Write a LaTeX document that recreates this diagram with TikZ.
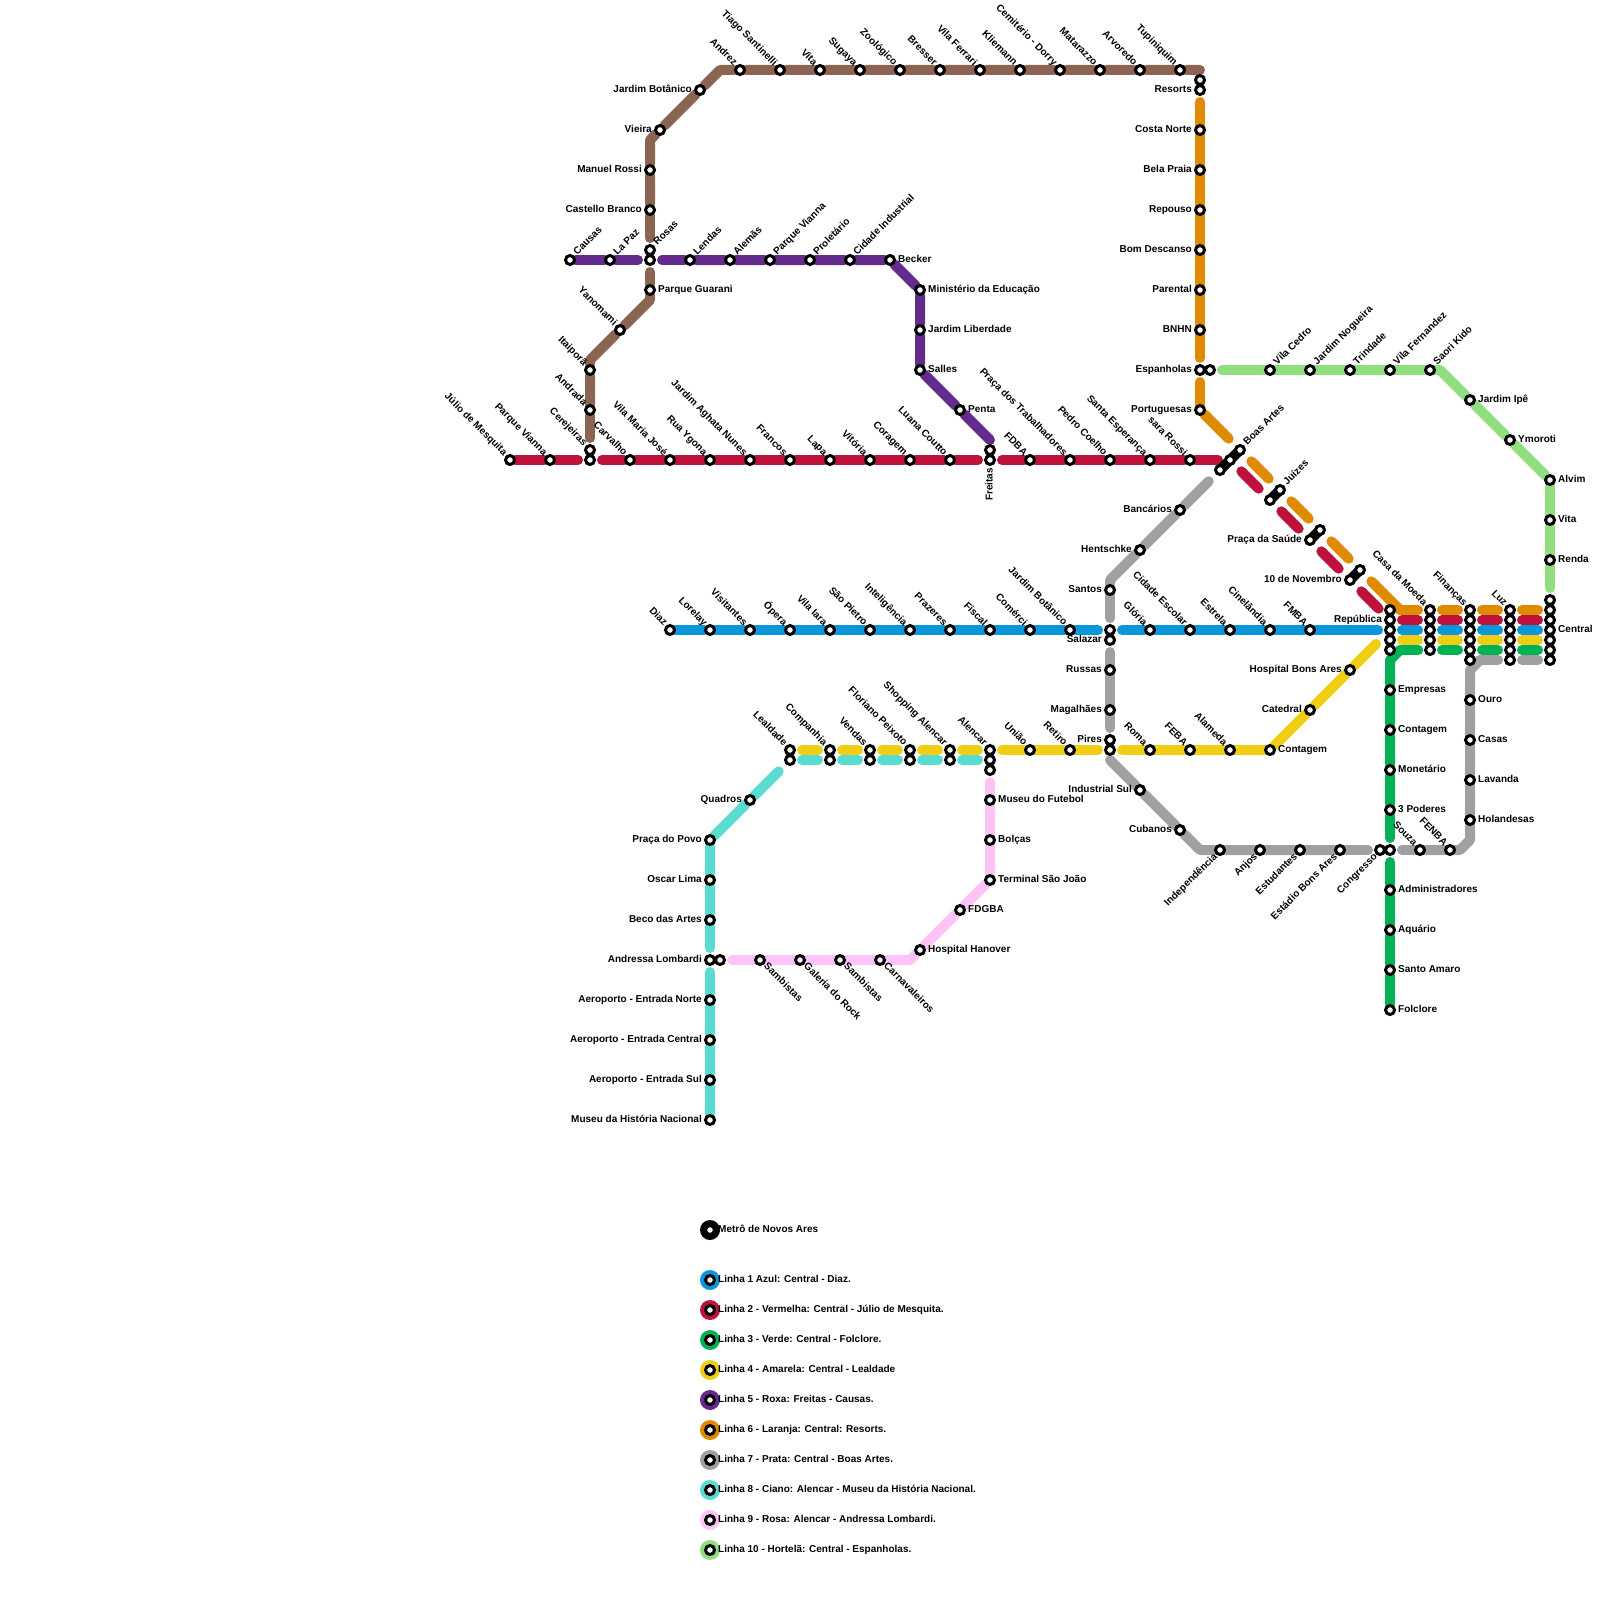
\documentclass[tikz,border=0pt]{standalone}
\usepackage{fontspec}
\setmainfont{Liberation Sans}
\definecolor{cBlue}{RGB}{9,150,218}
\definecolor{cRed}{RGB}{190,18,60}
\definecolor{cGreen}{RGB}{0,178,84}
\definecolor{cYellow}{RGB}{240,206,20}
\definecolor{cPurple}{RGB}{100,42,140}
\definecolor{cOrange}{RGB}{224,138,0}
\definecolor{cGray}{RGB}{160,160,160}
\definecolor{cCyan}{RGB}{88,220,210}
\definecolor{cPink}{RGB}{252,196,246}
\definecolor{cMint}{RGB}{144,222,128}
\definecolor{cBrown}{RGB}{140,100,82}
\pgfdeclarelayer{lines}
\pgfsetlayers{lines,main}
\begin{document}
\begin{tikzpicture}[
    x=1pt,y=-1pt,
    st/.style={circle,draw=black,fill=white,line width=3pt,minimum size=9pt,inner sep=0pt,label distance=0pt},
    lab/.style={font=\fontsize{10}{12}\selectfont\bfseries,inner sep=0pt,text height=7.2pt,text depth=2.2pt},
    le/.style={label={[lab,anchor=west,xshift=2pt]0:#1}},
    lw/.style={label={[lab,anchor=east,xshift=-2pt]180:#1}},
    lne/.style={label={[lab,rotate=45,anchor=west,xshift=2.2pt,yshift=.4pt]45:#1}},
    lnw/.style={label={[lab,rotate=-45,anchor=east,xshift=-1.2pt,yshift=.5pt]135:#1}},
    lse/.style={label={[lab,rotate=-45,anchor=west,xshift=1pt]-45:#1}},
    lsw/.style={label={[lab,rotate=45,anchor=east,xshift=-.5pt,yshift=-1pt]225:#1}},
    lup/.style={label={[lab,rotate=90,anchor=east,xshift=-2pt]-90:#1}},
    linha/.style={line width=10pt,line cap=round,line join=round},
    gape/.style={shorten >=6pt},
    gap/.style={shorten <=6pt,gape},
    gapde/.style={shorten >=10pt},
    gapd/.style={shorten <=10pt,gapde},
    bar/.style={line width=10pt,black,shorten <=-4pt,shorten >=-4pt},
    leg/.style={circle,minimum size=20pt,inner sep=0pt}
  ]
    \useasboundingbox (0,0) rectangle (1600,1600);
    % brown
    \foreach \n/\x/\t in {andrez/740/Andrez,tiago/780/Tiago Santinelli,vitab/820/Vita,sugaya/860/Sugaya,zoo/900/Zoológico,bresser/940/Bresser,ferrari/980/Vila Ferrari,kliemann/1020/Kliemann,dorry/1060/Cemitério - Dorry,matarazzo/1100/Matarazzo,arvoredo/1140/Arvoredo,tupi/1180/Tupiniquim}
      {\node[st,lnw=\t] (\n) at (\x,70) {};}
    \foreach \n/\x/\y/\t in {jbot/700/90/Jardim Botânico,vieira/660/130/Vieira,rossi/650/170/Manuel Rossi,castello/650/210/Castello Branco}
      {\node[st,lw=\t] (\n) at (\x,\y) {};}
    \foreach \n/\x/\y/\t in {yanomami/620/330/Yanomami,itaipora/590/370/Itaiporã,andrada/590/410/Andrada,cerej/590/450/Cerejeiras}
      {\node[st,lnw=\t] (\n) at (\x,\y) {};}
    \node[st,lne=Rosas] (rosas) at (650,250) {};
    \node[st] (rosas0) at (650,260) {};
    \node[st,le=Parque Guarani] (pguarani) at (650,290) {};
    % purple
    \foreach \n/\x/\t in {causas/570/Causas,lapaz/610/La Paz,lendas/690/Lendas,alemas/730/Alemãs,pvianna/770/Parque Vianna,proletario/810/Proletário,cindustrial/850/Cidade Industrial}
      {\node[st,lne=\t] (\n) at (\x,260) {};}
    \foreach \n/\x/\y/\t in {becker/890/260/Becker,minist/920/290/Ministério da Educação,jlib/920/330/Jardim Liberdade,salles/920/370/Salles,penta/960/410/Penta}
      {\node[st,le=\t] (\n) at (\x,\y) {};}
    % red
    \foreach \n/\x/\t in {julio/510/Júlio de Mesquita,pvianna2/550/Parque Vianna,carvalho/630/Carvalho,vmaria/670/Vila Maria José,ygona/710/Rua Ygona,aghata/750/Jardim Aghata Nunes,francos/790/Francos,lapa/830/Lapa,vitoria/870/Vitória,coragem/910/Coragem,luana/950/Luana Coutto,fdba/1030/FDBA,ptrab/1070/Praça dos Trabalhadores,pcoelho/1110/Pedro Coelho,sesperanca/1150/Santa Esperança,srossi/1190/sara Rossi}
      {\node[st,lnw=\t] (\n) at (\x,460) {};}
    \node[st] (carv0) at (590,460) {};
    \node[st] (fre0) at (990,450) {};
    \node[st,lup=Freitas] (fre) at (990,460) {};
    % blue
    \foreach \n/\x/\t in {diaz/670/Diaz,lorelay/710/Lorelay,visitantes/750/Visitantes,opera/790/Ópera,viara/830/Vila Iara,spietro/870/São Pietro,intel/910/Inteligência,prazeres/950/Prazeres,fiscal/990/Fiscal,comerci/1030/Comérci,jbot2/1070/Jardim Botânico,gloria/1150/Glória,cescolar/1190/Cidade Escolar,estrela/1230/Estrela,cinelandia/1270/Cinelândia,fmba/1310/FMBA}
      {\node[st,lnw=\t] (\n) at (\x,630) {};}
    % gray
    \foreach \n/\x/\y/\t in {bancarios/1180/510/Bancários,hentschke/1140/550/Hentschke,santos/1110/590/Santos,russas/1110/670/Russas,magalhaes/1110/710/Magalhães,pires/1110/740/Pires,indsul/1140/790/Industrial Sul,cubanos/1180/830/Cubanos}
      {\node[st,lw=\t] (\n) at (\x,\y) {};}
    \node[st] (sal0) at (1110,630) {};
    \node[st,lw=Salazar] (salazar) at (1110,640) {};
    \node[st] (pires0) at (1110,750) {};
    \foreach \n/\x/\t in {indep/1220/Independência,anjos/1260/Anjos,estud/1300/Estudantes,ebons/1340/Estádio Bons Ares,congresso/1380/Congresso}
      {\node[st,lsw=\t] (\n) at (\x,850) {};}
    \node[st] (tres0) at (1390,850) {};
    \node[st,lnw=Souza] (souza) at (1420,850) {};
    \node[st,lnw=FENBA] (fenba) at (1450,850) {};
    \foreach \n/\y/\t in {holandesas/820/Holandesas,lavanda/780/Lavanda,casas/740/Casas,ouro/700/Ouro}
      {\node[st,le=\t] (\n) at (1470,\y) {};}
    % yellow and cyan
    \foreach \n/\x/\t in {lealdade/790/Lealdade,companhia/830/Companhia,vendas/870/Vendas,floriano/910/Floriano Peixoto,shopping/950/Shopping Alencar,alencar/990/Alencar,uniao/1030/União,retiro/1070/Retiro,roma/1150/Roma,feba/1190/FEBA,alameda/1230/Alameda}
      {\node[st,lnw=\t] (\n) at (\x,750) {};}
    \foreach \n/\x in {cl/790,cc/830,cv/870,cf/910,cs/950,ca/990}
      {\node[st] (\n) at (\x,760) {};}
    \node[st] (ca2) at (990,770) {};
    \node[st,le=Contagem] (contagem) at (1270,750) {};
    \node[st,lw=Catedral] (catedral) at (1310,710) {};
    \node[st,lw=Hospital Bons Ares] (hbons) at (1350,670) {};
    \foreach \n/\x/\y/\t in {quadros/750/800/Quadros,ppovo/710/840/Praça do Povo,oscar/710/880/Oscar Lima,beco/710/920/Beco das Artes,andressa/710/960/Andressa Lombardi,aeron/710/1000/Aeroporto - Entrada Norte,aeroc/710/1040/Aeroporto - Entrada Central,aeros/710/1080/Aeroporto - Entrada Sul,museuh/710/1120/Museu da História Nacional}
      {\node[st,lw=\t] (\n) at (\x,\y) {};}
    % pink
    \foreach \n/\x/\y/\t in {mfutebol/990/800/Museu do Futebol,bolcas/990/840/Bolças,tsaojoao/990/880/Terminal São João,fdgba/960/910/FDGBA,hanover/920/950/Hospital Hanover}
      {\node[st,le=\t] (\n) at (\x,\y) {};}
    \foreach \n/\x/\t in {carnav/880/Carnavaleiros,samb2/840/Sambistas,galeria/800/Galeria do Rock,samb1/760/Sambistas}
      {\node[st,lse=\t] (\n) at (\x,960) {};}
    \node[st] (and0) at (720,960) {};
    % orange
    \node[st] (res0) at (1200,80) {};
    \foreach \n/\y/\t in {resorts/90/Resorts,cnorte/130/Costa Norte,bpraia/170/Bela Praia,repouso/210/Repouso,bdescanso/250/Bom Descanso,parental/290/Parental,bnhn/330/BNHN,espanholas/370/Espanholas,portuguesas/410/Portuguesas}
      {\node[st,lw=\t] (\n) at (1200,\y) {};}
    % mint
    \node[st] (esp0) at (1210,370) {};
    \foreach \n/\x/\t in {vcedro/1270/Vila Cedro,jnog/1310/Jardim Nogueira,trindade/1350/Trindade,vfern/1390/Vila Fernandez,saori/1430/Saori Kido}
      {\node[st,lne=\t] (\n) at (\x,370) {};}
    \foreach \n/\x/\y/\t in {jipe/1470/400/Jardim Ipê,ymoroti/1510/440/Ymoroti,alvim/1550/480/Alvim,vita/1550/520/Vita,renda/1550/560/Renda}
      {\node[st,le=\t] (\n) at (\x,\y) {};}
    % green
    \foreach \n/\y/\t in {empresas/690/Empresas,contagem2/730/Contagem,monetario/770/Monetário,poderes/810/3 Poderes,admin/890/Administradores,aquario/930/Aquário,samaro/970/Santo Amaro,folclore/1010/Folclore}
      {\node[st,le=\t] (\n) at (1390,\y) {};}
    % diagonal stops
    \node[st] (ba1) at (1220,470) {};
    \node[st] (ba2) at (1230,460) {};
    \node[st,lne=Boas Artes] (ba3) at (1240,450) {};
    \node[st] (ju1) at (1270,500) {};
    \node[st,lne=Juízes] (ju2) at (1280,490) {};
    \node[st,lw=Praça da Saúde] (sa1) at (1310,540) {};
    \node[st] (sa2) at (1320,530) {};
    \node[st,lw=10 de Novembro] (no1) at (1350,580) {};
    \node[st] (no2) at (1360,570) {};
    % columns
    \foreach \i/\y in {1/610,3/630,4/640,5/650}
      {\node[st] (rep\i) at (1390,\y) {};}
    \node[st,lw=República] (rep2) at (1390,620) {};
    \foreach \i/\y in {2/620,3/630,4/640,5/650}{
      \node[st] (cas\i) at (1430,\y) {};
      \node[st] (fin\i) at (1470,\y) {};
      \node[st] (luz\i) at (1510,\y) {};
    }
    \node[st,lnw=Casa da Moeda] (cas1) at (1430,610) {};
    \node[st,lnw=Finanças] (fin1) at (1470,610) {};
    \node[st,lnw=Luz] (luz1) at (1510,610) {};
    \foreach \i/\y in {0/600,1/610,2/620,4/640,5/650,6/660}
      {\node[st] (cen\i) at (1550,\y) {};}
    \node[st,le=Central] (cen3) at (1550,630) {};
    \node[st] (fin6) at (1470,660) {};
    \node[st] (luz6) at (1510,660) {};
    \coordinate (brA) at (590,360);
    \coordinate (brB) at (650,300);
    \coordinate (brC) at (650,140);
    \coordinate (brD) at (720,70);
    \coordinate (brE) at (1200,70);
    \coordinate (puEnd) at (990,440);
    \coordinate (orBend) at (1400,610);
    \coordinate (grA) at (1110,580);
    \coordinate (grB) at (1110,760);
    \coordinate (grC) at (1200,850);
    \coordinate (grD) at (1460,850);
    \coordinate (grE) at (1470,840);
    \coordinate (grF) at (1470,670);
    \coordinate (grG) at (1480,660);
    \coordinate (yeEnd) at (1376,644);
    \coordinate (piBend) at (910,960);
    \coordinate (miBend) at (1440,370);
    \coordinate (grnA) at (1400,650);
    \coordinate (grnB) at (1390,660);
    \begin{pgfonlayer}{lines}
      \draw[linha,cBrown] (pguarani)--(brB)--(yanomami)--(brA)--(itaipora)--(andrada);
      \draw[linha,cBrown] (castello)--(rossi)--(brC)--(vieira)--(jbot)--(brD)--(andrez)--(tiago)--(vitab)--(sugaya)--(zoo)--(bresser)--(ferrari)--(kliemann)--(dorry)--(matarazzo)--(arvoredo)--(tupi)--(brE);
      \draw[linha,cPurple] (causas)--(lapaz);
      \draw[linha,cPurple] (lendas)--(alemas)--(pvianna)--(proletario)--(cindustrial)--(becker)--(minist)--(jlib)--(salles)--(penta)--(puEnd);
      \draw[linha,cRed] (julio)--(pvianna2);
      \draw[linha,cRed] (carvalho)--(vmaria)--(ygona)--(aghata)--(francos)--(lapa)--(vitoria)--(coragem)--(luana);
      \draw[linha,cRed] (fdba)--(ptrab)--(pcoelho)--(sesperanca)--(srossi);
      \draw[linha,cBlue] (diaz)--(lorelay)--(visitantes)--(opera)--(viara)--(spietro)--(intel)--(prazeres)--(fiscal)--(comerci)--(jbot2);
      \draw[linha,cBlue] (gloria)--(cescolar)--(estrela)--(cinelandia)--(fmba);
      \draw[linha,cGray] (bancarios)--(hentschke)--(grA)--(santos);
      \draw[linha,cGray] (russas)--(magalhaes);
      \draw[linha,cGray] (grB)--(indsul)--(cubanos)--(grC)--(indep)--(anjos)--(estud)--(ebons);
      \draw[linha,cGray] (souza)--(fenba)--(grD)--(grE)--(holandesas)--(lavanda)--(casas)--(ouro)--(grF)--(grG);
      \draw[linha,cYellow] (yeEnd)--(hbons)--(catedral)--(contagem)--(alameda)--(feba)--(roma);
      \draw[linha,cYellow] (retiro)--(uniao);
      \draw[linha,cCyan] (quadros)--(ppovo)--(oscar)--(beco);
      \draw[linha,cCyan] (aeron)--(aeroc)--(aeros)--(museuh);
      \draw[linha,cPink] (mfutebol)--(bolcas)--(tsaojoao)--(fdgba)--(hanover)--(piBend)--(carnav)--(samb2)--(galeria)--(samb1);
      \draw[linha,cOrange] (cnorte)--(bpraia)--(repouso)--(bdescanso)--(parental)--(bnhn);
      \draw[linha,cMint] (vcedro)--(jnog)--(trindade)--(vfern)--(saori)--(miBend)--(jipe)--(ymoroti)--(alvim)--(vita)--(renda);
      \draw[linha,cGreen] (grnA)--(grnB)--(empresas)--(contagem2)--(monetario)--(poderes);
      \draw[linha,cGreen] (admin)--(aquario)--(samaro)--(folclore);
      % line ends that stop short of a stop
      \foreach \c/\a/\b in {cBrown/pguarani/rosas0,cBrown/andrada/cerej,cBrown/castello/rosas,cPurple/lapaz/rosas0,cPurple/lendas/rosas0,cRed/pvianna2/carv0,cRed/carvalho/carv0,cRed/luana/fre,cRed/fdba/fre,cRed/srossi/ba2,cBlue/jbot2/sal0,cBlue/gloria/sal0,cBlue/fmba/rep3,cGray/santos/sal0,cGray/russas/salazar,cGray/magalhaes/pires,cGray/ebons/congresso,cGray/souza/tres0,cGray/grG/luz6,cYellow/roma/pires0,cYellow/retiro/pires0,cYellow/uniao/alencar,cCyan/beco/andressa,cCyan/aeron/andressa,cPink/mfutebol/ca2,cPink/samb1/and0,cOrange/cnorte/resorts,cOrange/bnhn/espanholas,cOrange/portuguesas/espanholas,cOrange/orBend/cas1,cMint/vcedro/esp0,cMint/renda/cen0,cGreen/poderes/tres0,cGreen/admin/tres0,cGreen/grnA/cas5}
        {\draw[linha,\c,gape] (\a)--(\b);}
      \foreach \c/\a/\b in {cRed/ba2/ju1,cRed/ju1/sa1,cRed/sa1/no1,cRed/no1/rep2,cOrange/ba3/ju2,cOrange/ju2/sa2,cOrange/sa2/no2}
        {\draw[linha,\c,gapd] (\a)--(\b);}
      \foreach \c/\a/\b in {cGray/bancarios/ba1,cCyan/quadros/cl,cOrange/portuguesas/ba3,cOrange/orBend/no2}
        {\draw[linha,\c,gapde] (\a)--(\b);}
      \foreach \a/\b in {lealdade/companhia,companhia/vendas,vendas/floriano,floriano/shopping,shopping/alencar}
        {\draw[linha,cYellow,gap] (\a)--(\b);}
      \foreach \a/\b in {cl/cc,cc/cv,cv/cf,cf/cs,cs/ca}
        {\draw[linha,cCyan,gap] (\a)--(\b);}
      \draw[linha,cGray,gap] (luz6)--(cen6);
      \foreach \i/\c in {1/cOrange,2/cRed,3/cBlue,4/cYellow,5/cGreen}{
        \ifnum\i>1 \draw[linha,\c,gap] (rep\i)--(cas\i);\fi
        \draw[linha,\c,gap] (cas\i)--(fin\i);
        \draw[linha,\c,gap] (fin\i)--(luz\i);
        \draw[linha,\c,gap] (luz\i)--(cen\i);
      }
      \draw[bar] (ba1)--(ba2);
      \draw[bar] (ba2)--(ba3);
      \draw[bar] (ju1)--(ju2);
      \draw[bar] (sa1)--(sa2);
      \draw[bar] (no1)--(no2);
    \end{pgfonlayer}
    % legend
    \foreach \c/\y/\t in {black/1230/Metrô de Novos Ares,cBlue/1280/Linha 1 Azul: Central - Diaz.,cRed/1310/Linha 2 - Vermelha: Central - Júlio de Mesquita.,cGreen/1340/Linha 3 - Verde: Central - Folclore.,cYellow/1370/Linha 4 - Amarela: Central - Lealdade,cPurple/1400/Linha 5 - Roxa: Freitas - Causas.,cOrange/1430/Linha 6 - Laranja: Central: Resorts.,cGray/1460/Linha 7 - Prata: Central - Boas Artes.,cCyan/1490/Linha 8 - Ciano: Alencar - Museu da História Nacional.,cPink/1520/Linha 9 - Rosa: Alencar - Andressa Lombardi.,cMint/1550/Linha 10 - Hortelã: Central - Espanholas.}{
      \node[leg,fill=\c] (disc\y) at (710,\y) {};
      \node[st] (stop\y) at (710,\y) {};
      \node[lab,anchor=west] (text\y) at (718,\y) {\t};
    }
  \end{tikzpicture}
\end{document}
